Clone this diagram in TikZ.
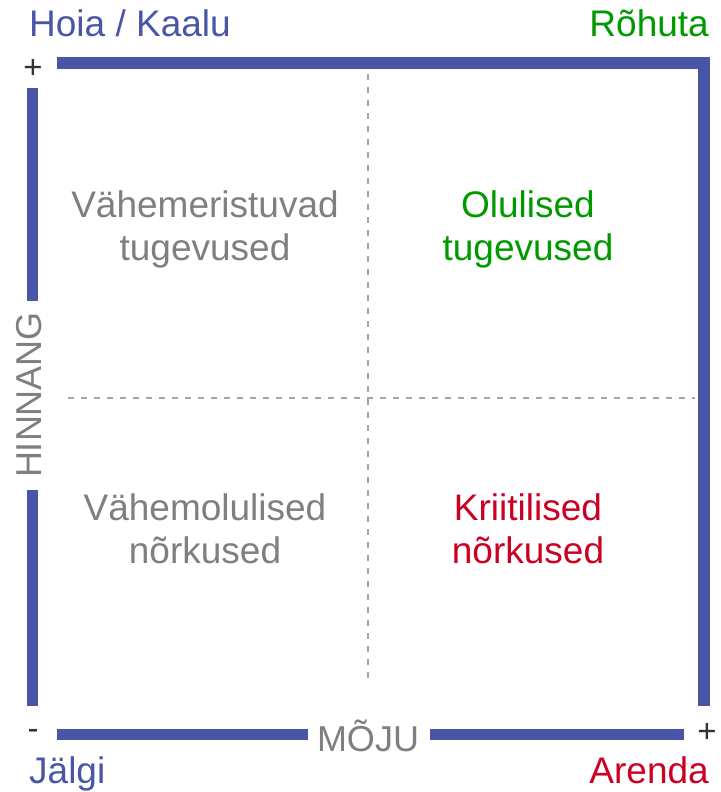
\documentclass[tikz,border=0pt]{standalone}
\usepackage{fontspec}
\setmainfont{Liberation Sans}
\usepackage{xcolor}
\usetikzlibrary{positioning}
\definecolor{barblue}{RGB}{73,86,167}
\definecolor{keepgreen}{RGB}{0,153,0}
\definecolor{critred}{RGB}{204,0,34}
\definecolor{softgray}{RGB}{127,127,127}
\definecolor{divgray}{RGB}{165,165,165}
\definecolor{signgray}{RGB}{51,51,51}
\tikzset{
  bar/.style      = {fill=barblue, draw=none},
  divider/.style  = {draw=divgray, line width=1.8pt, dash pattern=on 6pt off 7pt},
  quadlbl/.style  = {font=\fontsize{37}{43}\selectfont, align=center, inner sep=0pt, anchor=base},
  cornerlbl/.style= {font=\fontsize{37}{43}\selectfont, inner sep=0pt},
  axislbl/.style  = {font=\fontsize{36}{43}\selectfont, text=softgray, inner sep=0pt},
  signlbl/.style  = {font=\fontsize{33}{40}\selectfont, text=signgray, inner sep=0pt, anchor=base},
}

\begin{document}
\begin{tikzpicture}[x=1pt, y=1pt]
    \useasboundingbox (0,0) rectangle (720,792);

    %% Frame bars
    \fill[bar] (57,723)  rectangle (710,735);   % top
    \fill[bar] (698,86)  rectangle (710,735);   % right
    \fill[bar] (27,491)  rectangle (38,704);    % left, upper part
    \fill[bar] (27,86)   rectangle (38,302);    % left, lower part
    \fill[bar] (57,52)   rectangle (308,63);    % bottom, left part
    \fill[bar] (430,52)  rectangle (684,63);    % bottom, right part

    %% Quadrant dividers
    \coordinate (vtop) at (368,718);
    \coordinate (vbot) at (368,107);
    \coordinate (hlft) at (68,394);
    \coordinate (hrgt) at (695,394);
    \draw[divider] (vtop) -- (vbot);
    \draw[divider] (hlft) -- (hrgt);

    %% Quadrant labels (base = last line)
    \node[quadlbl, text=softgray]   (minstr)  at (205,531) {Vähemeristuvad\\tugevused};
    \node[quadlbl, text=keepgreen]  (keystr)  at (528,531) {Olulised\\tugevused};
    \node[quadlbl, text=softgray]   (minweak) at (205,228) {Vähemolulised\\nõrkused};
    \node[quadlbl, text=critred]    (keyweak) at (528,228) {Kriitilised\\nõrkused};

    %% Corner labels
    \node[cornerlbl, text=barblue,   anchor=base west] (hold)    at (29,755)  {Hoia / Kaalu};
    \node[cornerlbl, text=keepgreen, anchor=base east] (stress)  at (709,755) {Rõhuta};
    \node[cornerlbl, text=barblue,   anchor=base west] (watch)   at (29,9)    {Jälgi};
    \node[cornerlbl, text=critred,   anchor=base east] (develop) at (709,9)   {Arenda};

    %% Axis labels
    \node[axislbl, rotate=90]    (rating) at (29,397) {HINNANG};
    \node[axislbl, anchor=base]  (impact) at (368,40) {MÕJU};

    %% Axis signs
    \node[signlbl] (plusl)  at (33,713) {+};
    \node[signlbl] (minus)  at (33,52)  {-};
    \node[signlbl] (plusr)  at (707,49) {+};

  \end{tikzpicture}
\end{document}
